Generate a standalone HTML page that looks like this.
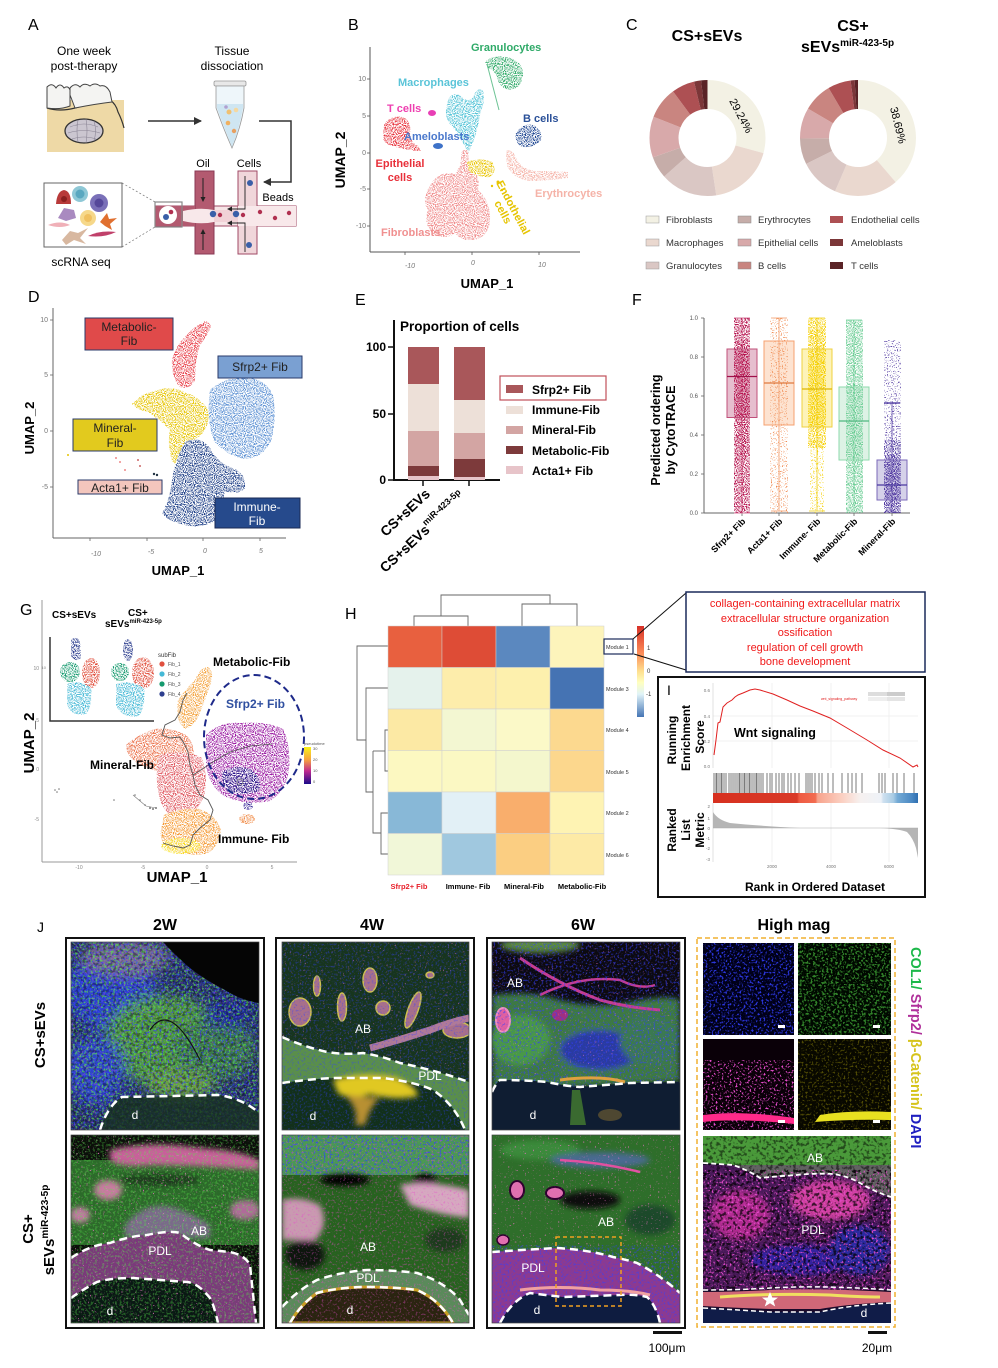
<!DOCTYPE html>
<html><head><meta charset="utf-8">
<style>
html,body{margin:0;padding:0;background:#fff;}
svg{display:block;font-family:"Liberation Sans",Arial,sans-serif;}
.b{font-weight:bold;}
.tk{font-size:7px;fill:#777;}
</style></head>
<body>
<svg width="998" height="1368" viewBox="0 0 998 1368" xmlns="http://www.w3.org/2000/svg">
<defs>
<filter id="dots" x="0" y="0" width="1" height="1" color-interpolation-filters="sRGB">
 <feTurbulence type="fractalNoise" baseFrequency="0.9" numOctaves="1" seed="7" result="n"/>
 <feColorMatrix in="n" type="matrix" values="0 0 0 0 0  0 0 0 0 0  0 0 0 0 0  7 0 0 0 -3.2" result="a"/>
 <feComposite in="SourceGraphic" in2="a" operator="in"/>
</filter>
<filter id="dots2" x="0" y="0" width="1" height="1" color-interpolation-filters="sRGB">
 <feTurbulence type="fractalNoise" baseFrequency="0.8" numOctaves="1" seed="11" result="n"/>
 <feColorMatrix in="n" type="matrix" values="0 0 0 0 0  0 0 0 0 0  0 0 0 0 0  9 0 0 0 -5.2" result="a"/>
 <feComposite in="SourceGraphic" in2="a" operator="in"/>
</filter>
<filter id="bl3"><feGaussianBlur stdDeviation="3"/></filter>
<filter id="bl6" x="-30%" y="-30%" width="160%" height="160%"><feGaussianBlur stdDeviation="6"/></filter>
<filter id="spG" x="0" y="0" width="1" height="1" color-interpolation-filters="sRGB">
 <feTurbulence type="fractalNoise" baseFrequency="0.45" numOctaves="2" seed="3"/>
 <feColorMatrix type="matrix" values="0 0 0 0 0.35  0 0 0 0 0.9  0 0 0 0 0.3  7 0 0 0 -3.6"/>
</filter>
<filter id="spB" x="0" y="0" width="1" height="1" color-interpolation-filters="sRGB">
 <feTurbulence type="fractalNoise" baseFrequency="0.5" numOctaves="2" seed="9"/>
 <feColorMatrix type="matrix" values="0 0 0 0 0.2  0 0 0 0 0.25  0 0 0 0 1  8 0 0 0 -4.4"/>
</filter>
<filter id="spM" x="0" y="0" width="1" height="1" color-interpolation-filters="sRGB">
 <feTurbulence type="fractalNoise" baseFrequency="0.5" numOctaves="2" seed="21"/>
 <feColorMatrix type="matrix" values="0 0 0 0 0.9  0 0 0 0 0.3  0 0 0 0 0.8  8 0 0 0 -4.6"/>
</filter>
<filter id="spP" x="0" y="0" width="1" height="1" color-interpolation-filters="sRGB">
 <feTurbulence type="fractalNoise" baseFrequency="0.6" numOctaves="1" seed="33"/>
 <feColorMatrix type="matrix" values="0 0 0 0 0.95  0 0 0 0 0.45  0 0 0 0 0.8  12 0 0 0 -8"/>
</filter>
<filter id="spY" x="0" y="0" width="1" height="1" color-interpolation-filters="sRGB">
 <feTurbulence type="fractalNoise" baseFrequency="0.5" numOctaves="2" seed="41"/>
 <feColorMatrix type="matrix" values="0 0 0 0 0.75  0 0 0 0 0.7  0 0 0 0 0.05  8 0 0 0 -4.6"/>
</filter>
<filter id="spK" x="0" y="0" width="1" height="1" color-interpolation-filters="sRGB">
 <feTurbulence type="fractalNoise" baseFrequency="0.3" numOctaves="2" seed="5"/>
 <feColorMatrix type="matrix" values="0 0 0 0 0  0 0 0 0 0  0 0 0 0 0  6 0 0 0 -3"/>
</filter>
<clipPath id="c1"><rect x="71" y="942" width="188" height="188"/></clipPath>
<clipPath id="c2"><rect x="71" y="1135" width="188" height="188"/></clipPath>
<clipPath id="c3"><rect x="282" y="942" width="187" height="188"/></clipPath>
<clipPath id="c4"><rect x="282" y="1135" width="187" height="188"/></clipPath>
<clipPath id="c5"><rect x="492" y="942" width="188" height="188"/></clipPath>
<clipPath id="c6"><rect x="492" y="1135" width="188" height="188"/></clipPath>
<clipPath id="c7"><rect x="703" y="943" width="91" height="92"/></clipPath>
<clipPath id="c8"><rect x="798" y="943" width="93" height="92"/></clipPath>
<clipPath id="c9"><rect x="703" y="1039" width="91" height="91"/></clipPath>
<clipPath id="c10"><rect x="798" y="1039" width="93" height="91"/></clipPath>
<clipPath id="c11"><rect x="703" y="1136" width="188" height="187"/></clipPath>
<linearGradient id="hmcb" x1="0" y1="0" x2="0" y2="1">
 <stop offset="0" stop-color="#d73027"/><stop offset="0.3" stop-color="#fc8d59"/><stop offset="0.5" stop-color="#fee090"/>
 <stop offset="0.62" stop-color="#ffffbf"/><stop offset="0.75" stop-color="#e0f3f8"/><stop offset="1" stop-color="#4575b4"/>
</linearGradient>
<linearGradient id="ptcb" x1="0" y1="0" x2="0" y2="1">
 <stop offset="0" stop-color="#f9f21a"/><stop offset="0.35" stop-color="#f5a040"/><stop offset="0.65" stop-color="#c02a90"/><stop offset="1" stop-color="#1a0a8a"/>
</linearGradient>
<linearGradient id="gsea" x1="0" y1="0" x2="1" y2="0">
 <stop offset="0" stop-color="#d7301f"/><stop offset="0.41" stop-color="#d93a28"/><stop offset="0.42" stop-color="#ee5a42"/><stop offset="0.5" stop-color="#f26c50"/>
 <stop offset="0.51" stop-color="#f7a38c"/><stop offset="0.63" stop-color="#fbd0c2"/><stop offset="0.72" stop-color="#f6f1f0"/><stop offset="0.82" stop-color="#eef2f8"/>
 <stop offset="0.83" stop-color="#cfe1f0"/><stop offset="0.88" stop-color="#a8cbe4"/><stop offset="0.9" stop-color="#74aad5"/><stop offset="0.97" stop-color="#4a88c3"/><stop offset="1" stop-color="#2f6fb0"/>
</linearGradient>
<marker id="ah" markerWidth="8" markerHeight="8" refX="7" refY="4" orient="auto" markerUnits="userSpaceOnUse"><path d="M0,0 L8,4 L0,8 Z" fill="#333"/></marker>
<marker id="ah2" markerWidth="5" markerHeight="5" refX="4" refY="2.5" orient="auto" markerUnits="userSpaceOnUse"><path d="M0,0 L5,2.5 L0,5 Z" fill="#222"/></marker>
</defs>

<!-- ===================== PANEL A ===================== -->
<text x="28" y="30" font-size="16">A</text>
<text x="84" y="55" font-size="12" text-anchor="middle">One week</text>
<text x="84" y="70" font-size="12" text-anchor="middle">post-therapy</text>
<text x="232" y="55" font-size="12" text-anchor="middle">Tissue</text>
<text x="232" y="70" font-size="12" text-anchor="middle">dissociation</text>
<path d="M47,100 L124,100 L124,152 L47,152 Z" fill="#eed9a6"/>
<path d="M47,108 Q60,112 75,108 Q95,102 110,100 Q116,104 118,112 Q122,120 124,128" fill="none" stroke="#333" stroke-width="1.2"/>
<path d="M47,87 Q52,82 56,88 Q60,82 64,88 Q68,85 70,90 L70,106 Q60,110 47,108 Z" fill="#f4f4f2" stroke="#444" stroke-width="1"/>
<path d="M70,88 Q75,82 80,87 Q84,82 90,86 Q95,82 100,86 Q106,84 110,92 L112,102 Q95,104 75,108 Q72,100 70,95 Z" fill="#f4f4f2" stroke="#444" stroke-width="1"/>
<ellipse cx="84" cy="131" rx="19" ry="12" fill="#cbc6d0" stroke="#333" stroke-width="1.3"/>
<path d="M70,127 Q84,121 98,127 M68,133 Q84,128 100,133 M72,139 Q84,135 96,139 M78,120 Q76,131 78,142 M86,119 Q88,131 86,143 M94,121 Q97,131 94,141" stroke="#8a8494" stroke-width="0.6" fill="none"/>
<line x1="148" y1="121" x2="201" y2="121" stroke="#333" stroke-width="1.5" marker-end="url(#ah)"/>
<rect x="214" y="81" width="32" height="5" rx="1.5" fill="#e8e8e8" stroke="#999" stroke-width="0.8"/>
<path d="M216,86 L244,86 L244,108 Q240,130 232,148 Q224,130 216,108 Z" fill="#eef6fa" stroke="#999" stroke-width="0.8"/>
<path d="M217,104 L243,104 L243,108 Q239,130 232,147 Q225,130 217,108 Z" fill="#cfe6f2"/>
<circle cx="229" cy="112" r="2.5" fill="#f0c070"/><circle cx="236" cy="110" r="2.3" fill="#f5d8a0"/><circle cx="228" cy="123" r="2.3" fill="#f0b060"/><circle cx="234" cy="131" r="2.2" fill="#e8a060"/><circle cx="226" cy="107" r="1.8" fill="#b0a0d0"/>
<polyline points="259,121 291,121 291,182 264,182" fill="none" stroke="#333" stroke-width="1.5" marker-end="url(#ah)"/>
<text x="203" y="167" font-size="11" text-anchor="middle">Oil</text>
<text x="249" y="167" font-size="11" text-anchor="middle">Cells</text>
<text x="278" y="201" font-size="11" text-anchor="middle">Beads</text>
<rect x="155" y="206" width="141" height="20" fill="#f6e4e6" stroke="#a04a66" stroke-width="1"/>
<rect x="195" y="171" width="19" height="83" fill="#b35a70" stroke="#8a3a55" stroke-width="1"/>
<rect x="238" y="171" width="19" height="83" fill="#f0d6da" stroke="#a04a66" stroke-width="1"/>
<rect x="155" y="206" width="40" height="20" fill="#b35a70"/>
<rect x="238" y="206" width="58" height="20" fill="#f8e8ea"/>
<path d="M183,211 Q200,207 214,210 L238,210 L238,222 L214,222 Q200,225 183,221 Z" fill="#f8e8ea"/>
<path d="M214,210 L238,210 L238,222 L214,222 Z" fill="#f1d2d7"/>
<line x1="203" y1="178" x2="203" y2="201" stroke="#222" stroke-width="1" marker-end="url(#ah2)"/>
<line x1="203" y1="250" x2="203" y2="230" stroke="#222" stroke-width="1" marker-end="url(#ah2)"/>
<polyline points="245,176 245,209 228,209" fill="none" stroke="#222" stroke-width="0.9" marker-end="url(#ah2)"/>
<polyline points="245,252 245,223 228,223" fill="none" stroke="#222" stroke-width="0.9" marker-end="url(#ah2)"/>
<rect x="155" y="202" width="27" height="25" fill="none" stroke="#888" stroke-width="1.2"/>
<circle cx="168" cy="215" r="9" fill="#fff"/>
<circle cx="166" cy="217" r="3" fill="#3a5fa8"/><circle cx="171" cy="212" r="2.3" fill="#b03050"/>
<circle cx="250" cy="183" r="3" fill="#3a5fa8"/><circle cx="249" cy="245" r="3" fill="#3a5fa8"/>
<circle cx="213" cy="214" r="3.2" fill="#3a5fa8"/><circle cx="236" cy="214" r="3.2" fill="#3a5fa8"/>
<circle cx="220" cy="215" r="2.2" fill="#b03050"/><circle cx="243" cy="215" r="2.2" fill="#b03050"/><circle cx="260" cy="212" r="2.2" fill="#b03050"/><circle cx="275" cy="218" r="2.2" fill="#b03050"/><circle cx="289" cy="213" r="2.2" fill="#b03050"/>
<line x1="122" y1="183" x2="155" y2="202" stroke="#777" stroke-width="0.7" stroke-dasharray="2 2"/>
<line x1="122" y1="247" x2="155" y2="227" stroke="#777" stroke-width="0.7" stroke-dasharray="2 2"/>
<rect x="44" y="183" width="78" height="64" fill="#fff" stroke="#666" stroke-width="1"/>
<path d="M56,204 Q57,191 64,190 Q71,191 71,204 Z" fill="#b83a3a"/><circle cx="64" cy="199" r="3" fill="#8a2020"/>
<circle cx="80" cy="194" r="8" fill="#8fc8d6"/><circle cx="80" cy="194" r="4.5" fill="#5aa8c0"/>
<circle cx="99" cy="203" r="9" fill="#7a70b8"/><circle cx="99" cy="203" r="4.5" fill="#55489a"/>
<path d="M58,218 L64,208 L74,210 L76,218 L66,221 Z" fill="#a98ac0"/>
<circle cx="88" cy="218" r="8" fill="#f6d88a"/><circle cx="88" cy="218" r="4" fill="#f0c060"/>
<path d="M100,222 L107,213 L109,219 L117,218 L110,224 L112,230 L105,226 Z" fill="#e07030"/>
<path d="M48,225 Q60,220 70,225 Q60,229 48,225 Z" fill="#f0b0b8"/>
<path d="M62,240 L70,231 L78,233 L88,228 L80,238 L86,244 L74,240 L66,245 Z" fill="#d8b8a0"/>
<path d="M88,236 Q100,230 116,232 Q104,238 88,236 Z" fill="#c0406a"/>
<text x="81" y="266" font-size="12" text-anchor="middle">scRNA seq</text>

<!-- ===================== PANEL B ===================== -->
<text x="348" y="30" font-size="16">B</text>
<line x1="370" y1="47" x2="370" y2="252" stroke="#555" stroke-width="1"/>
<line x1="370" y1="252" x2="580" y2="252" stroke="#555" stroke-width="1"/>
<g class="tk" text-anchor="end">
<text x="366" y="81">10</text><text x="366" y="118">5</text><text x="366" y="155">0</text><text x="366" y="191">-5</text><text x="366" y="228">-10</text></g>
<g stroke="#555" stroke-width="0.8"><line x1="367" y1="79" x2="370" y2="79"/><line x1="367" y1="116" x2="370" y2="116"/><line x1="367" y1="153" x2="370" y2="153"/><line x1="367" y1="189" x2="370" y2="189"/><line x1="367" y1="226" x2="370" y2="226"/>
<line x1="405" y1="252" x2="405" y2="255"/><line x1="472" y1="252" x2="472" y2="255"/><line x1="539" y1="252" x2="539" y2="255"/></g>
<g class="tk" text-anchor="middle" font-style="italic"><text x="410" y="268">-10</text><text x="473" y="265">0</text><text x="542" y="267">10</text></g>
<text transform="translate(345,160) rotate(-90)" font-size="14" class="b" text-anchor="middle">UMAP_2</text>
<text x="487" y="288" font-size="13" class="b" text-anchor="middle">UMAP_1</text>
<g filter="url(#dots)">
<path d="M485,62 Q492,55 506,57 Q523,60 523,75 Q521,89 510,90 Q500,88 498,80 Q495,70 488,68 Z" fill="#2faa68"/>
<path d="M448,99 Q455,90 462,97 Q470,104 474,95 Q478,86 483,91 Q486,100 480,115 Q478,130 472,145 L468,153 Q462,140 455,130 Q445,120 446,110 Z" fill="#4fc2d6"/>
<path d="M384,125 Q390,115 402,117 Q412,120 410,134 Q412,144 418,146 L421,151 Q410,151 400,148 Q385,146 383,138 Z" fill="#e8323c"/>
<path d="M430,185 Q440,170 455,174 Q462,160 470,164 Q481,175 478,190 Q489,200 490,215 Q491,233 478,239 Q462,243 455,233 Q445,241 432,233 Q423,222 428,210 Q421,200 430,185 Z" fill="#f08c8c"/>
<path d="M462,150 L468,150 L470,176 L459,176 Z" fill="#f08c8c"/>
<path d="M467,162 Q480,157 492,162 Q498,170 490,177 Q478,178 469,171 Z" fill="#e8c400"/>
<path d="M516,133 Q522,123 533,125 Q543,130 541,140 Q535,148 522,147 Q514,142 516,133 Z" fill="#1e4692"/>
<path d="M506,151 Q512,148 516,158 Q521,169 535,171 Q555,171 568,172 L568,178 Q545,181 528,181 Q511,177 507,165 Z" fill="#f5b3a8"/>
</g>
<line x1="487" y1="64" x2="499" y2="110" stroke="#2faa68" stroke-width="1" opacity="0.7"/>
<ellipse cx="432" cy="113" rx="4" ry="3" fill="#e83fb5"/>
<ellipse cx="438" cy="146" rx="5" ry="3" fill="#3e72c8"/>
<circle cx="498" cy="182" r="1.5" fill="#e8c400"/><circle cx="502" cy="190" r="1.2" fill="#e8c400"/><circle cx="492" cy="186" r="1.2" fill="#e8c400"/>
<g class="b" font-size="11">
<text x="471" y="51" fill="#2faa68">Granulocytes</text>
<text x="398" y="86" fill="#5ac4d8">Macrophages</text>
<text x="387" y="112" fill="#ee3fb0">T cells</text>
<text x="404" y="140" fill="#4a78cc">Ameloblasts</text>
<text x="400" y="167" fill="#e8303a" text-anchor="middle">Epithelial</text>
<text x="400" y="181" fill="#e8303a" text-anchor="middle">cells</text>
<text x="523" y="122" fill="#2a5098">B cells</text>
<text x="535" y="197" fill="#f5b3a8">Erythrocytes</text>
<text x="381" y="236" fill="#f09090">Fibroblasts</text>
<text transform="translate(496,183) rotate(62)" fill="#e6c400">Endothelial</text>
<text transform="translate(494,203) rotate(62)" fill="#e6c400">cells</text>
</g>

<!-- ===================== PANEL C ===================== -->
<text x="626" y="30" font-size="16">C</text>
<text x="707" y="41" font-size="16" class="b" text-anchor="middle">CS+sEVs</text>
<text x="853" y="31" font-size="16" class="b" text-anchor="middle">CS+</text>
<text x="801" y="52" font-size="16" class="b">sEVs<tspan font-size="10" dy="-6">miR-423-5p</tspan></text>
<g fill="none" stroke-width="29" transform="rotate(-90 707.5 138)">
<circle cx="707.5" cy="138" r="43.5" stroke="#f3f1e4" stroke-dasharray="79.72 300" stroke-dashoffset="0"/>
<circle cx="707.5" cy="138" r="43.5" stroke="#ead8cf" stroke-dasharray="50.11 300" stroke-dashoffset="-79.72"/>
<circle cx="707.5" cy="138" r="43.5" stroke="#dac7c4" stroke-dasharray="43.27 300" stroke-dashoffset="-129.83"/>
<circle cx="707.5" cy="138" r="43.5" stroke="#c6ada9" stroke-dasharray="16.7 300" stroke-dashoffset="-173.1"/>
<circle cx="707.5" cy="138" r="43.5" stroke="#d8a9aa" stroke-dasharray="31.13 300" stroke-dashoffset="-189.8"/>
<circle cx="707.5" cy="138" r="43.5" stroke="#c98580" stroke-dasharray="24.29 300" stroke-dashoffset="-220.93"/>
<circle cx="707.5" cy="138" r="43.5" stroke="#ad5053" stroke-dasharray="17.46 300" stroke-dashoffset="-245.22"/>
<circle cx="707.5" cy="138" r="43.5" stroke="#7b3638" stroke-dasharray="5.31 300" stroke-dashoffset="-262.68"/>
<circle cx="707.5" cy="138" r="43.5" stroke="#5a2326" stroke-dasharray="5.4 300" stroke-dashoffset="-267.99"/>
</g>
<g fill="none" stroke-width="29" transform="rotate(-90 858 138)">
<circle cx="858" cy="138" r="43.5" stroke="#f3f1e4" stroke-dasharray="105.76 300" stroke-dashoffset="0"/>
<circle cx="858" cy="138" r="43.5" stroke="#ead8cf" stroke-dasharray="48.36 300" stroke-dashoffset="-105.76"/>
<circle cx="858" cy="138" r="43.5" stroke="#dac7c4" stroke-dasharray="30.37 300" stroke-dashoffset="-154.12"/>
<circle cx="858" cy="138" r="43.5" stroke="#c6ada9" stroke-dasharray="19.74 300" stroke-dashoffset="-184.49"/>
<circle cx="858" cy="138" r="43.5" stroke="#d8a9aa" stroke-dasharray="23.54 300" stroke-dashoffset="-204.23"/>
<circle cx="858" cy="138" r="43.5" stroke="#c98580" stroke-dasharray="22.02 300" stroke-dashoffset="-227.77"/>
<circle cx="858" cy="138" r="43.5" stroke="#ad5053" stroke-dasharray="17.46 300" stroke-dashoffset="-249.79"/>
<circle cx="858" cy="138" r="43.5" stroke="#7b3638" stroke-dasharray="3.04 300" stroke-dashoffset="-267.25"/>
<circle cx="858" cy="138" r="43.5" stroke="#5a2326" stroke-dasharray="3.1 300" stroke-dashoffset="-270.29"/>
</g>
<text transform="translate(729,101) rotate(62)" font-size="11">29.24%</text>
<text transform="translate(890,108) rotate(76)" font-size="11">38.69%</text>
<g font-size="9.5" fill="#333">
<rect x="646" y="216" width="13" height="7" fill="#f3f1e4" stroke="#999" stroke-width="0.5"/><text x="666" y="223">Fibroblasts</text>
<rect x="646" y="239" width="13" height="7" fill="#ead8cf" stroke="#999" stroke-width="0.5"/><text x="666" y="246">Macrophages</text>
<rect x="646" y="262" width="13" height="7" fill="#dac7c4" stroke="#999" stroke-width="0.5"/><text x="666" y="269">Granulocytes</text>
<rect x="738" y="216" width="13" height="7" fill="#c6ada9" stroke="#888" stroke-width="0.5"/><text x="758" y="223">Erythrocytes</text>
<rect x="738" y="239" width="13" height="7" fill="#d8a9aa" stroke="#888" stroke-width="0.5"/><text x="758" y="246">Epithelial cells</text>
<rect x="738" y="262" width="13" height="7" fill="#c98580" stroke="#888" stroke-width="0.5"/><text x="758" y="269">B cells</text>
<rect x="830" y="216" width="13" height="7" fill="#ad5053"/><text x="851" y="223">Endothelial cells</text>
<rect x="830" y="239" width="13" height="7" fill="#7b3638"/><text x="851" y="246">Ameloblasts</text>
<rect x="830" y="262" width="13" height="7" fill="#5a2326"/><text x="851" y="269">T cells</text>
</g>

<!-- ===================== PANEL D ===================== -->
<text x="28" y="302" font-size="16">D</text>
<line x1="53" y1="308" x2="53" y2="538" stroke="#666" stroke-width="1"/>
<line x1="53" y1="538" x2="286" y2="538" stroke="#666" stroke-width="1"/>
<g class="tk" text-anchor="end"><text x="48" y="322">10</text><text x="48" y="377">5</text><text x="48" y="433">0</text><text x="48" y="489">-5</text></g>
<g stroke="#666" stroke-width="0.8"><line x1="50" y1="320" x2="53" y2="320"/><line x1="50" y1="375" x2="53" y2="375"/><line x1="50" y1="431" x2="53" y2="431"/><line x1="50" y1="487" x2="53" y2="487"/>
<line x1="90" y1="538" x2="90" y2="541"/><line x1="147" y1="538" x2="147" y2="541"/><line x1="203" y1="538" x2="203" y2="541"/><line x1="260" y1="538" x2="260" y2="541"/></g>
<g class="tk" text-anchor="middle" font-style="italic"><text x="96" y="556">-10</text><text x="151" y="554">-5</text><text x="205" y="553">0</text><text x="261" y="553">5</text></g>
<text transform="translate(34,428) rotate(-90)" font-size="13" class="b" text-anchor="middle">UMAP_2</text>
<text x="178" y="575" font-size="13" class="b" text-anchor="middle">UMAP_1</text>
<g filter="url(#dots)">
<path d="M172,360 Q176,345 184,338 Q190,330 200,324 Q207,318 211,326 Q208,335 200,345 Q195,360 195,380 Q190,390 180,387 Q171,378 172,360 Z" fill="#e8404a"/>
<path d="M132,404 Q140,394 155,391 Q170,385 185,392 Q201,398 208,410 Q211,425 200,436 Q190,441 185,456 Q180,470 172,461 Q167,445 170,430 Q160,420 148,412 Q137,410 132,404 Z" fill="#e6c400"/>
<path d="M210,390 Q225,377 245,377 Q266,379 273,395 Q277,420 271,441 Q262,459 245,459 Q227,456 214,441 Q206,420 210,390 Z" fill="#5e92d4"/>
<path d="M185,442 Q200,435 210,448 Q218,464 235,469 Q246,474 245,488 Q238,496 225,491 Q222,506 215,521 Q200,529 185,525 Q167,521 162,513 Q170,500 172,480 Q175,459 185,442 Z" fill="#1f4088"/>
</g>
<circle cx="116" cy="458" r="1" fill="#e88"/><circle cx="120" cy="462" r="1" fill="#e88"/><circle cx="125" cy="470" r="1" fill="#e88"/><circle cx="138" cy="460" r="1" fill="#c66"/><circle cx="140" cy="466" r="1" fill="#c66"/><circle cx="154" cy="474" r="1.2" fill="#234"/><circle cx="157" cy="475" r="1.2" fill="#234"/><circle cx="68" cy="455" r="1" fill="#e6c400"/>
<rect x="85" y="318" width="88" height="32" fill="#e04a4a" stroke="#2a3a6a" stroke-width="1"/>
<text x="129" y="331" font-size="12" text-anchor="middle" fill="#222">Metabolic-</text><text x="129" y="345" font-size="12" text-anchor="middle" fill="#222">Fib</text>
<rect x="218" y="356" width="84" height="22" fill="#7aa0d2" stroke="#2a3a6a" stroke-width="1"/>
<text x="260" y="371" font-size="12" text-anchor="middle" fill="#222">Sfrp2+ Fib</text>
<rect x="73" y="419" width="84" height="32" fill="#e2ca1e" stroke="#2a3a6a" stroke-width="1"/>
<text x="115" y="432" font-size="12" text-anchor="middle" fill="#222">Mineral-</text><text x="115" y="447" font-size="12" text-anchor="middle" fill="#222">Fib</text>
<rect x="78" y="480" width="84" height="14" fill="#f3c6bd" stroke="#2a3a6a" stroke-width="1"/>
<text x="120" y="492" font-size="12" text-anchor="middle" fill="#222">Acta1+ Fib</text>
<rect x="215" y="498" width="85" height="30" fill="#264a8c" stroke="#1a2a55" stroke-width="1"/>
<text x="257" y="511" font-size="12" text-anchor="middle" fill="#fff">Immune-</text><text x="257" y="525" font-size="12" text-anchor="middle" fill="#fff">Fib</text>

<!-- ===================== PANEL E ===================== -->
<text x="355" y="305" font-size="16">E</text>
<text x="400" y="331" font-size="13.5" class="b">Proportion of cells</text>
<line x1="394" y1="320" x2="394" y2="481" stroke="#111" stroke-width="2"/>
<line x1="393" y1="480" x2="500" y2="480" stroke="#111" stroke-width="2"/>
<g stroke="#111" stroke-width="1.5"><line x1="388" y1="347" x2="394" y2="347"/><line x1="388" y1="414" x2="394" y2="414"/><line x1="388" y1="480" x2="394" y2="480"/><line x1="423" y1="480" x2="423" y2="486"/><line x1="469" y1="480" x2="469" y2="486"/></g>
<g font-size="12" class="b" text-anchor="end"><text x="386" y="351">100</text><text x="386" y="418">50</text><text x="386" y="484">0</text></g>
<rect x="408" y="347" width="31" height="37" fill="#a9575a"/>
<rect x="408" y="384" width="31" height="47" fill="#ede0d8"/>
<rect x="408" y="431" width="31" height="35" fill="#d3a5a3"/>
<rect x="408" y="466" width="31" height="10" fill="#7d3a3b"/>
<rect x="408" y="476" width="31" height="4" fill="#e7c4c9"/>
<rect x="454" y="347" width="31" height="53" fill="#a9575a"/>
<rect x="454" y="400" width="31" height="33" fill="#ede0d8"/>
<rect x="454" y="433" width="31" height="26" fill="#d3a5a3"/>
<rect x="454" y="459" width="31" height="18" fill="#7d3a3b"/>
<rect x="454" y="477" width="31" height="3" fill="#e7c4c9"/>
<text transform="translate(431,495) rotate(-43)" font-size="14" class="b" text-anchor="end">CS+sEVs</text>
<text transform="translate(466,498) rotate(-43)" font-size="14" class="b" text-anchor="end">CS+sEVs<tspan font-size="9" dy="-7">miR-423-5p</tspan></text>
<rect x="500" y="376" width="106" height="24" fill="none" stroke="#c0505a" stroke-width="1.2"/>
<g font-size="12" class="b">
<rect x="506" y="385" width="17" height="8" fill="#a9575a"/><text x="532" y="394">Sfrp2+ Fib</text>
<rect x="506" y="406" width="17" height="8" fill="#ede0d8"/><text x="532" y="414">Immune-Fib</text>
<rect x="506" y="426" width="17" height="8" fill="#d3a5a3"/><text x="532" y="434">Mineral-Fib</text>
<rect x="506" y="446" width="17" height="8" fill="#7d3a3b"/><text x="532" y="455">Metabolic-Fib</text>
<rect x="506" y="466" width="17" height="8" fill="#e7c4c9"/><text x="532" y="475">Acta1+ Fib</text>
</g>

<!-- ===================== PANEL F ===================== -->
<text x="632" y="305" font-size="16">F</text>
<line x1="704" y1="318" x2="704" y2="513" stroke="#666" stroke-width="1"/>
<line x1="704" y1="513" x2="910" y2="513" stroke="#666" stroke-width="1"/>
<g font-size="6" fill="#555" text-anchor="end"><text x="698" y="320">1.0</text><text x="698" y="359">0.8</text><text x="698" y="398">0.6</text><text x="698" y="437">0.4</text><text x="698" y="476">0.2</text><text x="698" y="515">0.0</text></g>
<g stroke="#666" stroke-width="0.8"><line x1="701" y1="318" x2="704" y2="318"/><line x1="701" y1="357" x2="704" y2="357"/><line x1="701" y1="396" x2="704" y2="396"/><line x1="701" y1="435" x2="704" y2="435"/><line x1="701" y1="474" x2="704" y2="474"/><line x1="701" y1="513" x2="704" y2="513"/>
<line x1="742" y1="513" x2="742" y2="516"/><line x1="779" y1="513" x2="779" y2="516"/><line x1="817" y1="513" x2="817" y2="516"/><line x1="854" y1="513" x2="854" y2="516"/><line x1="892" y1="513" x2="892" y2="516"/></g>
<text transform="translate(660,430) rotate(-90)" font-size="12.5" class="b" text-anchor="middle">Predicted ordering</text>
<text transform="translate(675,430) rotate(-90)" font-size="12.5" class="b" text-anchor="middle">by CytoTRACE</text>
<rect x="727" y="349" width="30" height="68.5" fill="#e0aec2" opacity="0.8"/>
<rect x="764" y="341" width="30" height="84" fill="#fddcc6" opacity="0.8"/>
<rect x="802" y="349" width="30" height="78" fill="#fdf0a8" opacity="0.8"/>
<rect x="839" y="387" width="30" height="73" fill="#d4efdf" opacity="0.8"/>
<rect x="877" y="460" width="30" height="40" fill="#cbc5e4" opacity="0.8"/>
<g stroke-width="1">
<line x1="742" y1="318" x2="742" y2="513" stroke="#d67a9c"/><line x1="734" y1="318" x2="750" y2="318" stroke="#d67a9c"/><line x1="734" y1="513" x2="750" y2="513" stroke="#d67a9c"/>
<line x1="779" y1="318" x2="779" y2="511" stroke="#f5b088"/><line x1="771" y1="318" x2="787" y2="318" stroke="#f5b088"/><line x1="771" y1="511" x2="787" y2="511" stroke="#f5b088"/>
<line x1="817" y1="318" x2="817" y2="511" stroke="#f2d84a"/><line x1="809" y1="318" x2="825" y2="318" stroke="#f2d84a"/><line x1="809" y1="511" x2="825" y2="511" stroke="#f2d84a"/>
<line x1="854" y1="320" x2="854" y2="513" stroke="#92d8b0"/><line x1="846" y1="320" x2="862" y2="320" stroke="#92d8b0"/>
<line x1="892" y1="403" x2="892" y2="513" stroke="#7a68b8"/><line x1="884" y1="403" x2="900" y2="403" stroke="#5a48a8" stroke-width="1.5"/>
</g>
<rect x="734" y="318" width="16" height="195" fill="#b5104c" filter="url(#dots)"/>
<rect x="736" y="340" width="12" height="120" fill="#b5104c" filter="url(#dots)"/>
<rect x="770" y="318" width="18" height="195" fill="#f08a50" filter="url(#dots2)"/>
<rect x="808" y="318" width="18" height="130" fill="#f5cf00" filter="url(#dots)"/>
<rect x="810" y="330" width="14" height="100" fill="#f5cf00" filter="url(#dots)"/>
<rect x="810" y="440" width="14" height="73" fill="#f5cf00" filter="url(#dots2)"/>
<rect x="846" y="320" width="17" height="193" fill="#68cc92" filter="url(#dots)"/>
<rect x="884" y="440" width="17" height="73" fill="#5038a0" filter="url(#dots)"/>
<rect x="886" y="455" width="13" height="58" fill="#5038a0" filter="url(#dots)"/>
<rect x="884" y="340" width="17" height="100" fill="#5038a0" filter="url(#dots2)"/>
<g fill="none" stroke-width="1">
<rect x="727" y="349" width="30" height="68.5" stroke="#c0507a"/><line x1="727" y1="376.5" x2="757" y2="376.5" stroke="#a0104a" stroke-width="1.3"/>
<rect x="764" y="341" width="30" height="84" stroke="#f5a070"/><line x1="764" y1="383" x2="794" y2="383" stroke="#e07a40" stroke-width="1.3"/>
<rect x="802" y="349" width="30" height="78" stroke="#efd040"/><line x1="802" y1="389" x2="832" y2="389" stroke="#e0b800" stroke-width="1.3"/>
<rect x="839" y="387" width="30" height="73" stroke="#8ed9ac"/><line x1="839" y1="421" x2="869" y2="421" stroke="#50b880" stroke-width="1.3"/>
<rect x="877" y="460" width="30" height="40" stroke="#7a68b8"/><line x1="877" y1="485" x2="907" y2="485" stroke="#4a38a0" stroke-width="1.3"/>
</g>
<g font-size="9" class="b" text-anchor="end">
<text transform="translate(746,522) rotate(-45)">Sfrp2+ Fib</text>
<text transform="translate(783,522) rotate(-45)">Acta1+ Fib</text>
<text transform="translate(821,522) rotate(-45)">Immune- Fib</text>
<text transform="translate(858,522) rotate(-45)">Metabolic-Fib</text>
<text transform="translate(896,522) rotate(-45)">Mineral-Fib</text>
</g>

<!-- ===================== PANEL G ===================== -->
<text x="20" y="615" font-size="16">G</text>
<line x1="42" y1="600" x2="42" y2="862" stroke="#999" stroke-width="1"/>
<line x1="42" y1="862" x2="297" y2="862" stroke="#999" stroke-width="1"/>
<g font-size="5" fill="#888" text-anchor="end"><text x="39" y="670">10</text><text x="39" y="722">5</text><text x="39" y="771">0</text><text x="39" y="821">-5</text></g>
<g font-size="5" fill="#888" text-anchor="middle"><text x="79" y="869">-10</text><text x="143" y="869">-5</text><text x="207" y="869">0</text><text x="272" y="869">5</text></g>
<text transform="translate(34,743) rotate(-90)" font-size="15" class="b" text-anchor="middle">UMAP_2</text>
<text x="177" y="882" font-size="15" class="b" text-anchor="middle">UMAP_1</text>
<g filter="url(#dots)">
<path d="M178,700 Q185,690 195,680 Q200,667 208,667 Q215,672 210,686 Q205,700 200,713 Q195,726 185,729 Q175,722 178,700 Z" fill="#f4a33e"/>
<path d="M126,745 Q138,734 155,729 Q172,727 186,735 Q196,745 193,760 Q185,773 170,773 Q150,771 137,763 Q126,755 126,745 Z" fill="#ec7650"/>
<path d="M160,755 Q180,749 201,757 Q209,775 204,796 Q196,816 178,819 Q162,813 159,795 Q154,775 160,755 Z" fill="#e05a62"/>
<path d="M206,735 Q220,721 240,723 Q266,721 283,729 Q291,745 289,770 Q286,791 270,801 Q245,806 224,796 Q209,786 206,765 Z" fill="#9a1aa2"/>
<path d="M164,815 Q180,807 200,809 Q216,815 221,830 Q219,849 205,854 Q185,856 171,851 Q159,843 161,830 Z" fill="#f59a35"/>
</g>
<path d="M222,772 Q235,764 250,769 Q263,778 259,791 Q245,796 230,793 Q221,786 222,772 Z" fill="#241888" filter="url(#dots)"/>
<ellipse cx="181" cy="846" rx="20" ry="8" fill="#f8e020" filter="url(#dots)"/>
<ellipse cx="247" cy="819" rx="8" ry="5" fill="#f08a45" filter="url(#dots)"/>
<ellipse cx="248" cy="806" rx="5" ry="4" fill="#2a1a90" filter="url(#dots)"/>
<polyline points="163,843 173,846 183,848 190,845 193,835 200,828 210,820 213,810 208,800 200,795 195,785 193,775 190,765 188,752 185,745 180,737 170,738 162,735 165,725 175,720 180,712 183,700 187,693" fill="none" stroke="#555" stroke-width="0.9"/>
<polyline points="193,775 213,762 230,752 250,746 272,744" fill="none" stroke="#555" stroke-width="0.8"/>
<circle cx="240" cy="782" r="3" fill="none" stroke="#888" stroke-width="0.8"/>
<g fill="#777"><circle cx="55" cy="790" r="0.8"/><circle cx="57" cy="792" r="0.8"/><circle cx="59" cy="789" r="0.8"/><circle cx="135" cy="795" r="0.8"/><circle cx="140" cy="800" r="0.8"/><circle cx="145" cy="805" r="0.8"/><circle cx="150" cy="808" r="1"/><circle cx="153" cy="809" r="1"/><circle cx="156" cy="808" r="1"/><circle cx="114" cy="800" r="0.8"/></g>
<polyline points="133,795 140,801 146,806 156,808" fill="none" stroke="#777" stroke-width="0.6"/>
<ellipse cx="254" cy="737" rx="50" ry="62" fill="none" stroke="#1e2a8a" stroke-width="2" stroke-dasharray="7 4"/>
<text x="213" y="666" font-size="12" class="b">Metabolic-Fib</text>
<text x="226" y="708" font-size="12" class="b" fill="#3050a0">Sfrp2+ Fib</text>
<text x="90" y="769" font-size="12" class="b">Mineral-Fib</text>
<text x="218" y="843" font-size="12" class="b">Immune- Fib</text>
<text x="304" y="745" font-size="4" fill="#555">pseudotime</text>
<rect x="304" y="747" width="7" height="37" fill="url(#ptcb)"/>
<g font-size="4" fill="#555"><text x="313" y="750">30</text><text x="313" y="761">20</text><text x="313" y="772">10</text><text x="313" y="783">0</text></g>
<rect x="50" y="632" width="106" height="90" fill="#fff"/>
<polyline points="50,637 50,721 154,721" fill="none" stroke="#333" stroke-width="1.5"/>
<text x="52" y="618" font-size="10" class="b">CS+sEVs</text>
<text x="128" y="616" font-size="10" class="b">CS+</text>
<text x="105" y="627" font-size="10" class="b">sEVs<tspan font-size="6" dy="-4">miR-423-5p</tspan></text>
<g font-size="4" fill="#888" text-anchor="end"><text x="46" y="669">10</text></g>
<g filter="url(#dots)">
<path d="M71,640 Q77,635 80,642 L81,658 Q76,663 71,656 Z" fill="#2e3f8f"/>
<ellipse cx="70" cy="672" rx="10" ry="10" fill="#159a6e"/>
<ellipse cx="91" cy="673" rx="9" ry="15" fill="#e0503e"/>
<path d="M67,684 Q80,679 91,688 Q93,705 86,714 Q72,717 67,705 Z" fill="#45b9d6"/>
<ellipse cx="128" cy="650" rx="5" ry="11" fill="#2e3f8f"/>
<ellipse cx="120" cy="672" rx="9" ry="9" fill="#159a6e"/>
<ellipse cx="143" cy="673" rx="11" ry="16" fill="#e0503e"/>
<path d="M116,684 Q130,679 144,688 Q146,705 139,716 Q122,719 116,705 Z" fill="#45b9d6"/>
</g>
<text x="158" y="657" font-size="6" fill="#333">subFib</text>
<g font-size="5" fill="#555">
<circle cx="162" cy="664" r="2.6" fill="#e0503e"/><text x="168" y="666">Fib_1</text>
<circle cx="162" cy="674" r="2.6" fill="#45b9d6"/><text x="168" y="676">Fib_2</text>
<circle cx="162" cy="684" r="2.6" fill="#159a6e"/><text x="168" y="686">Fib_3</text>
<circle cx="162" cy="694" r="2.6" fill="#2e3f8f"/><text x="168" y="696">Fib_4</text>
</g>

<!-- ===================== PANEL H ===================== -->
<text x="345" y="619" font-size="16">H</text>
<g fill="none" stroke="#666" stroke-width="0.9">
<polyline points="414,626 414,616 468,616 468,626"/>
<polyline points="441,616 441,595 550,595 550,604"/>
<polyline points="522,626 522,604 577,604 577,626"/>
<polyline points="388,646 357,646 357,740 366,740"/>
<polyline points="388,688 366,688 366,792 373,792"/>
<polyline points="373,751 373,833 381,833"/>
<polyline points="373,751 385,751"/>
<polyline points="388,730 385,730 385,771 388,771"/>
<polyline points="388,813 381,813 381,854 388,854"/>
</g>
<g stroke="#d0d0d0" stroke-width="0.5">
<rect x="388" y="626" width="54" height="41.5" fill="#e8603f"/><rect x="442" y="626" width="54" height="41.5" fill="#de4c36"/><rect x="496" y="626" width="54" height="41.5" fill="#5b88bf"/><rect x="550" y="626" width="54" height="41.5" fill="#fdf4bb"/>
<rect x="388" y="667.5" width="54" height="41.5" fill="#e5f2ec"/><rect x="442" y="667.5" width="54" height="41.5" fill="#fdedab"/><rect x="496" y="667.5" width="54" height="41.5" fill="#fdf0ad"/><rect x="550" y="667.5" width="54" height="41.5" fill="#4573b3"/>
<rect x="388" y="709" width="54" height="41.5" fill="#fce9a4"/><rect x="442" y="709" width="54" height="41.5" fill="#f3f7d2"/><rect x="496" y="709" width="54" height="41.5" fill="#fbf9c8"/><rect x="550" y="709" width="54" height="41.5" fill="#fcd98f"/>
<rect x="388" y="750.5" width="54" height="41.5" fill="#fcf8c1"/><rect x="442" y="750.5" width="54" height="41.5" fill="#fbf8c3"/><rect x="496" y="750.5" width="54" height="41.5" fill="#f4f7cd"/><rect x="550" y="750.5" width="54" height="41.5" fill="#fcd78d"/>
<rect x="388" y="792" width="54" height="41.5" fill="#88b8d7"/><rect x="442" y="792" width="54" height="41.5" fill="#e2f0f6"/><rect x="496" y="792" width="54" height="41.5" fill="#f9ae6c"/><rect x="550" y="792" width="54" height="41.5" fill="#fef3b3"/>
<rect x="388" y="833.5" width="54" height="41.5" fill="#f1f7d8"/><rect x="442" y="833.5" width="54" height="41.5" fill="#a0c8df"/><rect x="496" y="833.5" width="54" height="41.5" fill="#fbce82"/><rect x="550" y="833.5" width="54" height="41.5" fill="#fdeaa6"/>
</g>
<g font-size="5.5" fill="#333">
<text x="606" y="649">Module 1</text><text x="606" y="691">Module 3</text><text x="606" y="732">Module 4</text><text x="606" y="774">Module 5</text><text x="606" y="815">Module 2</text><text x="606" y="857">Module 6</text>
</g>
<rect x="604" y="639" width="29" height="15" fill="none" stroke="#1a2a5a" stroke-width="1.2"/>
<rect x="637" y="626" width="7" height="91" fill="url(#hmcb)"/>
<g font-size="6" fill="#333"><text x="647" y="650">1</text><text x="647" y="673">0</text><text x="646" y="696">-1</text></g>
<line x1="633" y1="639" x2="686" y2="593" stroke="#111" stroke-width="1"/>
<line x1="634" y1="654" x2="686" y2="670" stroke="#111" stroke-width="1"/>
<g font-size="7.5" class="b" text-anchor="middle">
<text x="409" y="889" fill="#e8202a">Sfrp2+ Fib</text><text x="468" y="889">Immune- Fib</text><text x="524" y="889">Mineral-Fib</text><text x="582" y="889">Metabolic-Fib</text>
</g>
<rect x="686" y="592" width="239" height="80" fill="#fff" stroke="#1a2a5a" stroke-width="1.5"/>
<g font-size="11" fill="#f01818" text-anchor="middle">
<text x="805" y="607">collagen-containing extracellular matrix</text>
<text x="805" y="622">extracellular structure organization</text>
<text x="805" y="636">ossification</text>
<text x="805" y="651">regulation of cell growth</text>
<text x="805" y="665">bone development</text>
</g>

<!-- ===================== PANEL I ===================== -->
<rect x="658" y="677" width="267" height="220" fill="#fff" stroke="#111" stroke-width="2"/>
<text x="667" y="695" font-size="14">I</text>
<g stroke="#eee" stroke-width="0.8"><line x1="772" y1="683" x2="772" y2="768"/><line x1="831" y1="683" x2="831" y2="768"/><line x1="889" y1="683" x2="889" y2="768"/>
<line x1="772" y1="803" x2="772" y2="862"/><line x1="831" y1="803" x2="831" y2="862"/><line x1="889" y1="803" x2="889" y2="862"/>
<line x1="713" y1="716" x2="918" y2="716"/><line x1="713" y1="741" x2="918" y2="741"/></g>
<line x1="713" y1="683" x2="713" y2="768" stroke="#ccc" stroke-width="0.6"/>
<line x1="713" y1="803" x2="713" y2="862" stroke="#ccc" stroke-width="0.6"/>
<g font-size="4.5" fill="#777" text-anchor="end"><text x="710" y="692">0.6</text><text x="710" y="718">0.4</text><text x="710" y="743">0.2</text><text x="710" y="768">0.0</text>
<text x="710" y="808">2</text><text x="710" y="820">1</text><text x="710" y="830">0</text><text x="710" y="840">-1</text><text x="710" y="850">-2</text><text x="710" y="861">-3</text></g>
<g font-size="4.5" fill="#777" text-anchor="middle"><text x="772" y="868">2000</text><text x="831" y="868">4000</text><text x="889" y="868">6000</text></g>
<polyline points="714,755 716,740 718,723 720,722 723,707 727,703 732,700 735,697 738,695 743,693 750,690 755,689 760,690 773,694 787,700 800,706 813,711 830,718 847,728 867,740 883,750 900,758 913,767 917,765 918,767" fill="none" stroke="#e02020" stroke-width="1"/>
<rect x="868" y="692" width="19" height="4" fill="#ddd"/><rect x="887" y="692" width="18" height="4" fill="#ccc"/>
<rect x="868" y="697" width="19" height="4" fill="#eee"/><rect x="887" y="697" width="18" height="4" fill="#e4e4e4"/>
<text x="821" y="700" font-size="3.5" fill="#e02020">wnt_signaling_pathway</text>
<text x="734" y="737" font-size="12.5" class="b">Wnt signaling</text>
<g stroke="#222" stroke-width="0.7" opacity="0.85">
<path d="M714,773V793M716,773V793M717,773V793M719,773V793M721,773V793M722,773V793M724,773V793M726,773V793M729,773V793M731,773V793M733,773V793M735,773V793M737,773V793M739,773V793M740,773V793M742,773V793M744,773V793M745,773V793M747,773V793M749,773V793M750,773V793M752,773V793M754,773V793M756,773V793M757,773V793M759,773V793M761,773V793M763,773V793M767,773V793M770,773V793M772,773V793M776,773V793M779,773V793M782,773V793M784,773V793M788,773V793M791,773V793M795,773V793M799,773V793M806,773V793M808,773V793M810,773V793M812,773V793M815,773V793M819,773V793M822,773V793M828,773V793M833,773V793M842,773V793M848,773V793M852,773V793M856,773V793M862,773V793M879,773V793M882,773V793M885,773V793M893,773V793M897,773V793M904,773V793M914,773V793"/>
</g>
<rect x="713" y="793" width="205" height="10" fill="url(#gsea)"/>
<path d="M713,828 L713,812 Q718,820 730,823 Q760,826 800,828 L880,828 Q900,829 907,832 Q913,838 916,848 L918,858 L918,828 Z" fill="#b5b5b5"/>
<line x1="713" y1="828" x2="918" y2="828" stroke="#aaa" stroke-width="0.5"/>
<g font-size="12" class="b" text-anchor="middle">
<text transform="translate(676,740) rotate(-90)">Running</text>
<text transform="translate(690,738) rotate(-90)">Enrichment</text>
<text transform="translate(704,737) rotate(-90)">Score</text>
<text transform="translate(676,830) rotate(-90)">Ranked</text>
<text transform="translate(690,830) rotate(-90)">List</text>
<text transform="translate(704,830) rotate(-90)">Metric</text>
<text x="815" y="891">Rank in Ordered Dataset</text>
</g>

<!-- ===================== PANEL J ===================== -->
<text x="37" y="932" font-size="14">J</text>
<g font-size="16" class="b" text-anchor="middle"><text x="165" y="930">2W</text><text x="372" y="930">4W</text><text x="583" y="930">6W</text><text x="794" y="930">High mag</text></g>
<text transform="translate(45,1035) rotate(-90)" font-size="15" class="b" text-anchor="middle">CS+sEVs</text>
<text transform="translate(33,1229) rotate(-90)" font-size="15" class="b" text-anchor="middle">CS+</text>
<text transform="translate(54,1230) rotate(-90)" font-size="15" class="b" text-anchor="middle">sEVs<tspan font-size="10" dy="-6">miR-423-5p</tspan></text>
<text transform="translate(911,947) rotate(90)" font-size="14.5" class="b"><tspan fill="#1db84a">COL1/ </tspan><tspan fill="#b0309a">Sfrp2/ </tspan><tspan fill="#d6c41c">β-Catenin/ </tspan><tspan fill="#2020c0">DAPI</tspan></text>
<rect x="66" y="938" width="198" height="390" fill="#fff" stroke="#111" stroke-width="2"/>
<rect x="276" y="938" width="198" height="390" fill="#fff" stroke="#111" stroke-width="2"/>
<rect x="487" y="938" width="198" height="390" fill="#fff" stroke="#111" stroke-width="2"/>
<rect x="697" y="938" width="198" height="389" fill="#fff" stroke="#f0b030" stroke-width="1.5" stroke-dasharray="5 3"/>

<!-- M1: 2W top -->
<g clip-path="url(#c1)">
<rect x="71" y="942" width="188" height="188" fill="#24306a"/>
<g filter="url(#bl6)">
<ellipse cx="110" cy="990" rx="45" ry="40" fill="#2a40d0"/>
<ellipse cx="165" cy="1040" rx="60" ry="45" fill="#4f9a3c"/>
<ellipse cx="95" cy="1070" rx="30" ry="35" fill="#2d45c8"/>
<ellipse cx="215" cy="1050" rx="40" ry="30" fill="#3b7a4a"/>
<ellipse cx="125" cy="958" rx="45" ry="18" fill="#7a6a9a"/>
<ellipse cx="228" cy="1015" rx="25" ry="15" fill="#1e2a90"/>
<ellipse cx="180" cy="1085" rx="35" ry="15" fill="#6aa040"/>
</g>
<rect x="71" y="942" width="188" height="188" filter="url(#spG)" opacity="0.7"/>
<rect x="71" y="942" width="188" height="188" filter="url(#spB)" opacity="0.7"/>
<rect x="71" y="942" width="188" height="188" filter="url(#spM)" opacity="0.3"/>
<rect x="71" y="942" width="188" height="188" filter="url(#spK)" opacity="0.35"/>
<path d="M163,942 L259,942 L259,1003 Q240,1000 225,990 Q205,980 190,968 Q175,955 163,942 Z" fill="#050505"/>
<path d="M100,1130 Q108,1105 122,1097 L220,1095 Q245,1100 259,1113 L259,1130 Z" fill="#16301e" opacity="0.8"/>
<path d="M150,1030 Q170,1000 200,1060" fill="none" stroke="#111" stroke-width="1.2"/>
<path d="M100,1130 Q108,1105 122,1097 L220,1095 Q245,1100 259,1113" fill="none" stroke="#fff" stroke-width="2.5" stroke-dasharray="8 5"/>
<text x="135" y="1119" font-size="12" fill="#fff" text-anchor="middle">d</text>
</g>
<!-- M2: 2W bottom -->
<g clip-path="url(#c2)">
<rect x="71" y="1135" width="188" height="188" fill="#0b0f0a"/>
<rect x="71" y="1160" width="188" height="85" fill="#2c6a2a"/>
<g filter="url(#bl3)">
<path d="M110,1150 Q150,1140 200,1148 Q240,1150 259,1160 L259,1170 Q200,1165 150,1165 Q120,1168 110,1160 Z" fill="#c8609a"/>
<ellipse cx="108" cy="1190" rx="14" ry="10" fill="#c87aa0"/>
<path d="M125,1225 Q145,1200 175,1208 Q195,1215 210,1225 L210,1238 L125,1238 Z" fill="#7a6a8a"/>
<ellipse cx="80" cy="1215" rx="10" ry="8" fill="#c07aa0"/>
<ellipse cx="245" cy="1210" rx="15" ry="10" fill="#b06a9a"/>
<ellipse cx="160" cy="1180" rx="40" ry="6" fill="#1a3a1a"/>
</g>
<path d="M71,1258 Q90,1245 110,1243 Q130,1236 147,1235 Q170,1230 180,1233 Q195,1245 210,1250 L230,1252 Q245,1255 250,1265 L256,1323 L218,1323 Q214,1305 210,1298 Q198,1283 187,1282 L133,1278 Q110,1278 97,1282 Q82,1290 71,1298 Z" fill="#7a3a7a"/>
<path d="M71,1298 Q82,1290 97,1282 Q110,1278 133,1278 L187,1282 Q198,1283 210,1298 Q214,1305 218,1323 L71,1323 Z" fill="#0a1814"/>
<rect x="71" y="1135" width="188" height="188" filter="url(#spP)" opacity="0.8"/>
<rect x="71" y="1135" width="188" height="188" filter="url(#spG)" opacity="0.35"/>
<path d="M71,1258 Q90,1245 110,1243 Q130,1236 147,1235 Q170,1230 180,1233 Q195,1245 210,1250 L230,1252 Q245,1255 250,1265 L256,1323" fill="none" stroke="#fff" stroke-width="2.5" stroke-dasharray="8 5"/>
<path d="M71,1298 Q82,1290 97,1282 Q110,1278 133,1278 L187,1282 Q198,1283 210,1298 Q214,1305 218,1323" fill="none" stroke="#fff" stroke-width="2.5" stroke-dasharray="8 5"/>
<text x="199" y="1235" font-size="12" fill="#fff" text-anchor="middle">AB</text>
<text x="160" y="1255" font-size="12" fill="#fff" text-anchor="middle">PDL</text>
<text x="110" y="1315" font-size="12" fill="#fff" text-anchor="middle">d</text>
</g>
<!-- M3: 4W top -->
<g clip-path="url(#c3)">
<rect x="282" y="942" width="187" height="188" fill="#17351d"/>
<rect x="282" y="942" width="187" height="188" filter="url(#spP)" opacity="0.5"/>
<g fill="#a8708a" stroke="#d0c050" stroke-width="1.5">
<ellipse cx="370" cy="980" rx="7" ry="12"/>
<ellipse cx="317" cy="986" rx="3.5" ry="10"/>
<ellipse cx="342" cy="1007" rx="4.5" ry="14"/>
<ellipse cx="383" cy="1008" rx="7" ry="7"/>
<ellipse cx="413" cy="1010" rx="5" ry="19" transform="rotate(20 413 1010)"/>
<ellipse cx="457" cy="1030" rx="14" ry="8"/>
<ellipse cx="300" cy="1012" rx="11" ry="14"/>
<ellipse cx="430" cy="975" rx="4" ry="3"/>
</g>
<path d="M370,1048 Q400,1040 430,1030 Q450,1022 469,1018" fill="none" stroke="#b07a98" stroke-width="7"/>
<path d="M282,1037 Q305,1047 327,1052 Q345,1055 363,1053 Q382,1056 400,1063 Q435,1070 469,1082 L469,1130 L282,1130 Z" fill="#5a8f4a"/>
<path d="M282,1083 Q310,1079 333,1078 L383,1078 Q415,1082 433,1090 Q455,1105 465,1130 L282,1130 Z" fill="#12301a"/>
<rect x="282" y="942" width="187" height="188" filter="url(#spB)" opacity="0.35"/>
<g filter="url(#bl3)"><path d="M333,1080 Q360,1071 395,1077 Q416,1085 418,1096 Q395,1101 370,1094 Q350,1101 338,1093 Z" fill="#e0c820"/>
<path d="M345,1095 Q360,1110 355,1125 L365,1125 Q370,1105 380,1098 Z" fill="#b89030"/></g>
<path d="M282,1037 Q305,1047 327,1052 Q345,1055 363,1053 Q382,1056 400,1063 Q435,1070 469,1082" fill="none" stroke="#fff" stroke-width="2.5" stroke-dasharray="8 5"/>
<path d="M282,1083 Q310,1079 333,1078 L383,1078 Q415,1082 433,1090 Q455,1105 465,1130" fill="none" stroke="#fff" stroke-width="2.5" stroke-dasharray="8 5"/>
<text x="363" y="1033" font-size="12" fill="#fff" text-anchor="middle">AB</text>
<text x="430" y="1080" font-size="12" fill="#fff" text-anchor="middle">PDL</text>
<text x="313" y="1120" font-size="12" fill="#fff" text-anchor="middle">d</text>
</g>
<!-- M4: 4W bottom -->
<g clip-path="url(#c4)">
<rect x="282" y="1135" width="187" height="188" fill="#27621f"/>
<rect x="282" y="1135" width="187" height="40" fill="#4a9a50"/>
<rect x="282" y="1135" width="187" height="40" filter="url(#spB)" opacity="0.7"/>
<g filter="url(#bl3)">
<ellipse cx="345" cy="1180" rx="25" ry="6" fill="#050505"/>
<ellipse cx="425" cy="1182" rx="12" ry="8" fill="#050505"/>
<path d="M282,1200 Q300,1195 320,1205 Q330,1225 315,1240 L282,1240 Z" fill="#c99ab0"/>
<path d="M400,1185 Q430,1180 469,1190 L469,1218 Q440,1215 410,1205 Z" fill="#d6a8c0"/>
<ellipse cx="305" cy="1255" rx="20" ry="15" fill="#0a140a"/>
<ellipse cx="445" cy="1240" rx="20" ry="12" fill="#1a3a1a"/>
</g>
<path d="M282,1307 Q298,1290 317,1280 Q340,1272 367,1270 Q395,1270 417,1273 Q445,1282 460,1300 L469,1315 L469,1323 L282,1323 Z" fill="#5a8a5a"/>
<path d="M290,1323 Q300,1305 317,1293 Q340,1287 367,1287 Q395,1287 417,1290 Q440,1300 453,1323 Z" fill="#2a2410" stroke="#c8a020" stroke-width="3"/>
<rect x="282" y="1135" width="187" height="188" filter="url(#spM)" opacity="0.4"/>
<path d="M282,1307 Q298,1290 317,1280 Q340,1272 367,1270 Q395,1270 417,1273 Q445,1282 460,1300 L469,1315" fill="none" stroke="#fff" stroke-width="2.5" stroke-dasharray="8 5"/>
<path d="M290,1323 Q300,1305 317,1293 Q340,1287 367,1287 Q395,1287 417,1290 Q440,1300 453,1323" fill="none" stroke="#fff" stroke-width="2.5" stroke-dasharray="8 5"/>
<text x="368" y="1251" font-size="12" fill="#fff" text-anchor="middle">AB</text>
<text x="368" y="1282" font-size="12" fill="#fff" text-anchor="middle">PDL</text>
<text x="350" y="1314" font-size="12" fill="#fff" text-anchor="middle">d</text>
</g>
<!-- M5: 6W top -->
<g clip-path="url(#c5)">
<rect x="492" y="942" width="188" height="188" fill="#0c0a10"/>
<g filter="url(#bl3)">
<path d="M492,995 Q530,990 560,1000 Q600,1010 640,1000 Q670,995 680,1000 L680,1082 L492,1092 Z" fill="#3d7a40"/>
<ellipse cx="520" cy="1040" rx="30" ry="25" fill="#4a9a44"/>
<ellipse cx="600" cy="1050" rx="40" ry="20" fill="#2a3aa0"/>
<ellipse cx="650" cy="1040" rx="30" ry="25" fill="#3a7a50"/>
<ellipse cx="540" cy="945" rx="40" ry="8" fill="#5a8a40"/>
</g>
<path d="M520,958 Q560,985 600,1000 Q630,1008 660,1010" fill="none" stroke="#c83c90" stroke-width="3"/>
<path d="M540,995 Q580,975 620,980 Q640,990 655,985" fill="none" stroke="#c83c90" stroke-width="2.5"/>
<ellipse cx="503" cy="1020" rx="7" ry="12" fill="#e060a0" stroke="#f090c0" stroke-width="2"/>
<ellipse cx="560" cy="1015" rx="8" ry="6" fill="#a03080"/>
<rect x="492" y="942" width="188" height="188" filter="url(#spB)" opacity="0.55"/>
<rect x="492" y="942" width="188" height="188" filter="url(#spP)" opacity="0.5"/>
<path d="M492,1092 Q496,1083 500,1080 Q525,1080 547,1082 Q565,1086 580,1087 Q605,1085 630,1083 L680,1082 L680,1130 L492,1130 Z" fill="#0f1d32"/>
<path d="M572,1090 L580,1090 L586,1125 L570,1125 Z" fill="#3a6a30"/>
<ellipse cx="610" cy="1115" rx="12" ry="6" fill="#6a5a30" opacity="0.7"/>
<path d="M560,1080 Q600,1075 625,1082" stroke="#e0a040" stroke-width="3" fill="none"/>
<path d="M492,1092 Q496,1083 500,1080 Q525,1080 547,1082 Q565,1086 580,1087 Q605,1085 630,1083 L680,1082" fill="none" stroke="#fff" stroke-width="2.5" stroke-dasharray="8 5"/>
<text x="515" y="987" font-size="12" fill="#fff" text-anchor="middle">AB</text>
<text x="533" y="1119" font-size="12" fill="#fff" text-anchor="middle">d</text>
</g>
<!-- M6: 6W bottom -->
<g clip-path="url(#c6)">
<rect x="492" y="1135" width="188" height="188" fill="#2e6e2a"/>
<g filter="url(#bl3)">
<ellipse cx="590" cy="1200" rx="30" ry="9" fill="#0a0a0a"/>
<ellipse cx="650" cy="1220" rx="25" ry="15" fill="#1f4a2a"/>
<ellipse cx="540" cy="1150" rx="40" ry="10" fill="#3a8a3a"/>
<ellipse cx="600" cy="1160" rx="50" ry="8" fill="#4a6a90"/>
</g>
<path d="M560,1160 Q600,1162 640,1172" stroke="#e050a0" stroke-width="2.5" fill="none"/>
<ellipse cx="517" cy="1190" rx="7" ry="9" fill="#e070b0" stroke="#300030" stroke-width="2"/>
<ellipse cx="555" cy="1193" rx="9" ry="6" fill="#e070b0" stroke="#300030" stroke-width="2"/>
<ellipse cx="503" cy="1240" rx="6" ry="5" fill="#e070b0" stroke="#300030" stroke-width="1.5"/>
<rect x="492" y="1135" width="188" height="188" filter="url(#spP)" opacity="0.7"/>
<path d="M492,1252 Q520,1250 557,1248 Q590,1250 613,1257 Q628,1260 637,1263 Q660,1275 680,1293 L680,1323 L492,1323 Z" fill="#8c3a90"/>
<rect x="492" y="1245" width="188" height="78" filter="url(#spB)" opacity="0.5"/>
<path d="M520,1290 Q560,1285 600,1290 Q630,1290 650,1295" stroke="#f0a0a0" stroke-width="3" fill="none"/>
<path d="M500,1323 Q512,1300 530,1293 Q545,1295 563,1297 L620,1295 Q635,1294 647,1297 Q656,1305 660,1323 Z" fill="#0e1c40"/>
<path d="M492,1252 Q520,1250 557,1248 Q590,1250 613,1257 Q628,1260 637,1263 Q660,1275 680,1293" fill="none" stroke="#fff" stroke-width="2.5" stroke-dasharray="8 5"/>
<path d="M500,1323 Q512,1300 530,1293 Q545,1295 563,1297 L620,1295 Q635,1294 647,1297 Q656,1305 660,1323" fill="none" stroke="#fff" stroke-width="2.5" stroke-dasharray="8 5"/>
<rect x="556" y="1237" width="65" height="69" fill="none" stroke="#f0a020" stroke-width="1.5" stroke-dasharray="4 3"/>
<text x="606" y="1226" font-size="12" fill="#fff" text-anchor="middle">AB</text>
<text x="533" y="1272" font-size="12" fill="#fff" text-anchor="middle">PDL</text>
<text x="537" y="1314" font-size="12" fill="#fff" text-anchor="middle">d</text>
</g>
<!-- High mag small panels -->
<g clip-path="url(#c7)">
<rect x="703" y="943" width="91" height="92" fill="#000018"/>
<rect x="703" y="943" width="91" height="92" filter="url(#spB)" opacity="0.85"/>
<rect x="778" y="1025" width="7" height="3" fill="#fff"/>
</g>
<g clip-path="url(#c8)">
<rect x="798" y="943" width="93" height="92" fill="#000800"/>
<rect x="798" y="943" width="93" height="92" filter="url(#spG)" opacity="0.55"/>
<rect x="873" y="1025" width="7" height="3" fill="#fff"/>
</g>
<g clip-path="url(#c9)">
<rect x="703" y="1039" width="91" height="91" fill="#0a0008"/>
<rect x="703" y="1060" width="91" height="70" filter="url(#spM)"/>
<path d="M703,1115 Q740,1110 794,1118 L794,1124 Q740,1118 703,1122 Z" fill="#ff2a8a"/>
<rect x="778" y="1120" width="7" height="3" fill="#fff"/>
</g>
<g clip-path="url(#c10)">
<rect x="798" y="1039" width="93" height="91" fill="#080800"/>
<rect x="798" y="1039" width="93" height="91" filter="url(#spY)" opacity="0.4"/>
<path d="M820,1115 Q850,1110 891,1112 L891,1120 Q850,1119 815,1122 Z" fill="#e8e020"/>
<rect x="873" y="1120" width="7" height="3" fill="#fff"/>
</g>
<g clip-path="url(#c11)">
<rect x="703" y="1136" width="188" height="187" fill="#1a0a2a"/>
<path d="M703,1136 L891,1136 L891,1197 Q875,1192 860,1183 Q848,1176 833,1174 Q815,1173 797,1175 Q780,1176 760,1178 Q748,1170 733,1165 Q720,1164 703,1163 Z" fill="#4a9a3a"/>
<rect x="703" y="1165" width="188" height="125" fill="#7a2a8a" opacity="0.5"/>
<g filter="url(#bl3)">
<ellipse cx="830" cy="1200" rx="40" ry="20" fill="#d040a0"/>
<ellipse cx="740" cy="1215" rx="30" ry="25" fill="#b02a90"/>
<ellipse cx="800" cy="1260" rx="50" ry="15" fill="#3020a0"/>
<ellipse cx="860" cy="1250" rx="30" ry="25" fill="#2a2aa0"/>
</g>
<rect x="703" y="1170" width="188" height="120" filter="url(#spM)"/>
<rect x="703" y="1170" width="188" height="120" filter="url(#spK)" opacity="0.7"/>
<rect x="703" y="1136" width="188" height="40" filter="url(#spK)" opacity="0.5"/>
<path d="M703,1292 Q740,1292 770,1290 Q820,1288 891,1292 L891,1302 Q850,1304 820,1309 L770,1309 Q740,1308 703,1306 Z" fill="#d06878"/>
<path d="M720,1297 Q770,1293 830,1295 Q860,1297 880,1297" stroke="#f0e060" stroke-width="3" fill="none"/>
<path d="M703,1308 Q740,1310 770,1312 L820,1312 Q850,1305 891,1303 L891,1323 L703,1323 Z" fill="#101c48"/>
<path d="M703,1163 Q720,1164 733,1165 Q748,1170 760,1178 Q780,1176 797,1175 Q815,1173 833,1174 Q848,1176 860,1183 Q875,1192 891,1197" fill="none" stroke="#fff" stroke-width="1.8" stroke-dasharray="5 3"/>
<path d="M703,1290 Q740,1290 770,1288 Q820,1285 891,1290" fill="none" stroke="#fff" stroke-width="1.5" stroke-dasharray="5 3"/>
<path d="M703,1308 Q740,1310 770,1312 L820,1312 Q850,1305 891,1303" fill="none" stroke="#fff" stroke-width="1.5" stroke-dasharray="5 3"/>
<polygon points="770,1292 772.3,1297.5 778,1297.6 773.5,1301 775.2,1306.5 770,1303.3 764.8,1306.5 766.5,1301 762,1297.6 767.7,1297.5" fill="#fff"/>
<text x="815" y="1162" font-size="12" fill="#fff" text-anchor="middle">AB</text>
<text x="813" y="1234" font-size="12" fill="#fff" text-anchor="middle">PDL</text>
<text x="864" y="1317" font-size="12" fill="#fff" text-anchor="middle">d</text>
</g>
<!-- inner borders -->
<g fill="none" stroke="#444" stroke-width="0.7">
<rect x="71" y="942" width="188" height="188"/><rect x="71" y="1135" width="188" height="188"/>
<rect x="282" y="942" width="187" height="188"/><rect x="282" y="1135" width="187" height="188"/>
<rect x="492" y="942" width="188" height="188"/><rect x="492" y="1135" width="188" height="188"/>
</g>
<rect x="653" y="1331" width="29" height="3" fill="#111"/>
<text x="667" y="1352" font-size="12" text-anchor="middle">100μm</text>
<rect x="868" y="1331" width="19" height="3" fill="#111"/>
<text x="877" y="1352" font-size="12" text-anchor="middle">20μm</text>
</svg>
</body></html>
